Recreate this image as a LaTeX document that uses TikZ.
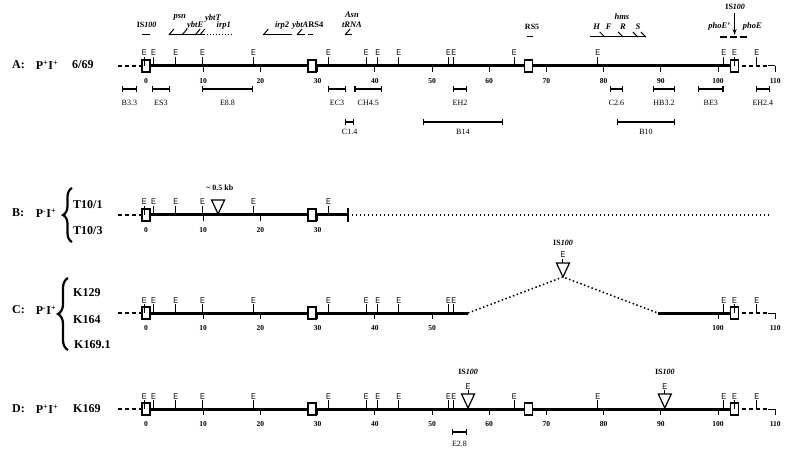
\documentclass[tikz,border=0pt]{standalone}
\usepackage{fontspec}
\setmainfont{Liberation Serif}
\setsansfont{Liberation Sans}
\usetikzlibrary{arrows.meta,decorations.pathreplacing}

\tikzstyle{chrom} = [line width=3pt]
\tikzstyle{flank} = [line width=1.3pt, dash pattern=on 4pt off 3pt]
\tikzstyle{deleted} = [line width=1.5pt, dash pattern=on 1.5pt off 2.5pt]
\tikzstyle{isbox} = [
    draw,
    fill=white,
    line width=1.3pt,
    rectangle,
    minimum width=8pt,
    minimum height=12pt,
    inner sep=0pt
    ]
\tikzstyle{sitetick} = [line width=1pt]
\tikzstyle{site} = [font=\sffamily\fontsize{8.5}{9}\selectfont, inner sep=0.5pt, anchor=south, xscale=0.85]
\tikzstyle{kbnum} = [font=\bfseries\fontsize{7.5}{8}\selectfont, inner sep=0pt]
\tikzstyle{frag} = [{Bar[width=6pt]}-{Bar[width=6pt]}, line width=1.3pt]
\tikzstyle{fragname} = [font=\fontsize{8}{9}\selectfont, inner sep=0pt]
\tikzstyle{genename} = [font=\bfseries\itshape\fontsize{8.5}{9}\selectfont, inner sep=0pt]
\tikzstyle{islabel} = [font=\bfseries\fontsize{8}{9}\selectfont, inner sep=0pt]
\tikzstyle{geneline} = [line width=1pt]
\tikzstyle{rowlabel} = [font=\bfseries\fontsize{12}{14}\selectfont, inner sep=0pt]
\tikzstyle{insertion} = [line width=1.2pt, fill=white]
\tikzstyle{strainbrace} = [decorate, decoration={brace, amplitude=9pt}, line width=2.2pt]

% E sites, kb scale, IS100 boxes and insertions along one track
\newcommand{\sites}[2]{\foreach \e [count=\i] in {#2} {\draw[sitetick] (\e,0) -- (\e,-9) node[site] (#1-E\i) {E};}}
\newcommand{\kbscale}[2]{\foreach \k in {#2} {\draw[sitetick] (\k,0) -- (\k,6); \node[kbnum] (#1-kb\k) at (\k,15) {\k};}}
\newcommand{\isboxes}[2]{\foreach \b [count=\i] in {#2} {\node[isbox] (#1-is\i) at (\b,0) {};}}
\newcommand{\ISinsert}[2]{\draw[insertion] (#1,#2) -- ++(-6.5pt,14pt) -- ++(13pt,0) -- cycle;}

\begin{document}
\begin{tikzpicture}[x=1pt, y=-1pt]
\useasboundingbox (0,0) rectangle (800,462);

% row labels
\node[rowlabel, anchor=west] (A-row) at (12,65) {A:};
\node[rowlabel] (A-type) at (47,65) {P\textsuperscript{+}I\textsuperscript{+}};
\node[rowlabel, anchor=west] (A-strain) at (72,65) {6/69};

\node[rowlabel, anchor=west] (B-row) at (12,213) {B:};
\node[rowlabel] (B-type) at (46,213) {P\textsuperscript{-}I\textsuperscript{+}};
\draw[strainbrace] (72,242) -- (72,188);
\node[rowlabel, anchor=west] (B-s1) at (73,205) {T10/1};
\node[rowlabel, anchor=west] (B-s2) at (73,231) {T10/3};

\node[rowlabel, anchor=west] (C-row) at (12,310) {C:};
\node[rowlabel] (C-type) at (46,310) {P\textsuperscript{-}I\textsuperscript{+}};
\draw[strainbrace, decoration={amplitude=10pt}] (68,350) -- (68,278);
\node[rowlabel, anchor=west] (C-s1) at (73,293) {K129};
\node[rowlabel, anchor=west] (C-s2) at (73,320) {K164};
\node[rowlabel, anchor=west] (C-s3) at (74,345) {K169.1};

\node[rowlabel, anchor=west] (D-row) at (12,409) {D:};
\node[rowlabel] (D-type) at (47,409) {P\textsuperscript{+}I\textsuperscript{+}};
\node[rowlabel, anchor=west] (D-strain) at (73,409) {K169};

% A: 6/69
\begin{scope}[shift={(146,66)}, x=5.72pt]
\draw[flank] (-4.9,0) -- (0,0);
\draw[chrom] (0,0) -- (102.9,0);
\draw[flank] (102.9,0) -- (109,0);
\draw[sitetick] (108.8,0) -- (110,0);
\kbscale{A}{0,10,...,110}
\isboxes{A}{0,29,66.9,102.9}
\sites{A}{-0.3,1.3,5.2,9.9,18.8,31.9,38.5,40.5,44.2,52.9,53.8,64.4,79,101,102.9,106.8}
% genes above the map
\node[islabel] (A-is100) at (0.1,-41) {IS\textit{100}};
\draw[geneline] (-0.7,-31) -- (0.7,-31);
\draw[geneline] (4.0,-31) -- (10.3,-31);
\foreach \g in {4.0,6.3,8.6,9.4} \draw[geneline] (\g,-31) -- ++(5pt,6pt);
\draw[geneline, dash pattern=on 1pt off 2pt] (10.6,-31) -- (15.0,-31);
\node[genename] (psn) at (5.9,-49) {psn};
\node[genename] (ybtE) at (8.6,-41) {ybtE};
\node[genename] (ybtT) at (11.7,-48) {ybtT};
\node[genename] (irp1) at (13.6,-41) {irp1};
\draw[geneline] (20.5,-31) -- (25.5,-31);
\draw[geneline] (20.5,-31) -- ++(5pt,6pt);
\node[genename] (irp2) at (23.8,-41) {irp2};
\draw[geneline] (26.4,-31) -- (27.8,-31);
\draw[geneline] (26.4,-31) -- ++(5pt,6pt);
\draw[geneline] (28.3,-31) -- (29.2,-31);
\node[genename] (ybtA) at (28.3,-41) {ybtA\textup{RS4}};
\draw[geneline] (34.8,-31) -- (36.0,-31);
\draw[geneline] (34.8,-31) -- ++(5pt,6pt);
\node[genename] (asn) at (36.0,-51) {Asn};
\node[genename] (trna) at (36.0,-41) {tRNA};
\node[islabel] (rs5) at (67.5,-39) {RS5};
\draw[geneline] (66.6,-29) -- (67.7,-29);
\draw[geneline] (77.6,-29) -- (87.4,-29);
\foreach \g in {80.2,83.4,86.0,87.4} \draw[geneline] (\g,-29) -- ++(-5pt,5pt);
\node[genename] (hms) at (83.2,-49) {hms};
\foreach \g/\t in {78.8/H,80.9/F,83.4/R,86.0/S} \node[genename] (hms-\t) at (\g,-39) {\t};
\node[islabel] (A-is100r) at (103.0,-59) {IS\textit{100}};
\draw[-{Stealth[length=6pt,width=4pt]}, line width=1.5pt] (102.9,-53) -- (102.9,-31);
\node[genename] (phoE1) at (100.2,-40) {phoE'};
\node[genename] (phoE2) at (106.0,-40) {phoE};
\draw[geneline, line width=1.3pt, dash pattern=on 7pt off 3pt] (100.3,-29) -- (105.4,-29);
% fragments
\foreach \a/\b/\t [count=\i] in {-4.2/-1.6/B3.3, 1.0/4.2/ES3, 9.8/18.7/E8.8, 31.8/35.0/EC3,
    36.4/41.3/CH4.5, 53.7/56.1/EH2, 81.1/83.4/C2.6, 88.6/92.5/HB3.2, 96.5/101.0/BE3, 106.6/109.1/EH2.4}
  \draw[frag] (\a,23) -- node[fragname, below=11pt] (frag\i) {\t} (\b,23);
\foreach \a/\b/\t [count=\i] in {34.8/36.4/C1.4, 48.4/62.4/B14, 82.3/92.5/B10}
  \draw[frag] (\a,56) -- node[fragname, below=7pt] (fragb\i) {\t} (\b,56);
\end{scope}

% B: T10/1, T10/3
\begin{scope}[shift={(146,215)}, x=5.72pt]
\draw[flank] (-4.9,0) -- (0,0);
\draw[chrom] (0,0) -- (35.3,0);
\draw[deleted] (35.3,0) -- (109.1,0);
\draw[line width=2.5pt] (35.3,-7) -- (35.3,7);
\kbscale{B}{0,10,...,30}
\isboxes{B}{0,29}
\sites{B}{-0.3,1.3,5.2,9.9,18.8,31.9}
\ISinsert{12.6}{-1}
\node[islabel] (B-ins) at (12.9,-27) {\textasciitilde\ 0.5 kb};
\end{scope}

% C: K129, K164, K169.1
\begin{scope}[shift={(146,313)}, x=5.72pt]
\draw[flank] (-4.9,0) -- (0,0);
\draw[chrom] (0,0) -- (56.3,0);
\draw[deleted] (56.3,0) -- (72.9,-36) -- (89.5,0);
\draw[chrom] (89.5,0) -- (102.9,0);
\draw[flank] (102.9,0) -- (109,0);
\draw[sitetick] (108.8,0) -- (110,0);
\kbscale{C}{0,10,...,50,100,110}
\isboxes{C}{0,29,102.9}
\sites{C}{-0.3,1.3,5.2,9.9,18.8,31.9,38.5,40.5,44.2,52.9,53.8,101,102.9,106.8}
\ISinsert{72.9}{-36}
\draw[sitetick] (72.9,-50) -- (72.9,-54) node[site] (C-Eins) {E};
\node[islabel] (C-is100) at (72.9,-70) {IS\textit{100}};
\end{scope}

% D: K169
\begin{scope}[shift={(146,409)}, x=5.72pt]
\draw[flank] (-4.9,0) -- (0,0);
\draw[chrom] (0,0) -- (102.9,0);
\draw[flank] (102.9,0) -- (109,0);
\draw[sitetick] (108.8,0) -- (110,0);
\kbscale{D}{0,10,...,110}
\isboxes{D}{0,29,66.9,102.9}
\sites{D}{-0.3,1.3,5.2,9.9,18.8,31.9,38.5,40.5,44.2,52.9,53.8,64.4,79,101,102.9,106.8}
\foreach \p [count=\i] in {56.3,90.7} {
  \ISinsert{\p}{-1}
  \draw[sitetick] (\p,-15) -- (\p,-19) node[site] (D-Eins\i) {E};
  \node[islabel] (D-is100-\i) at (\p,-37) {IS\textit{100}};
}
\draw[frag] (53.5,23) -- node[fragname, below=9pt] (D-frag) {E2.8} (56.1,23);
\end{scope}
\end{tikzpicture}
\end{document}
